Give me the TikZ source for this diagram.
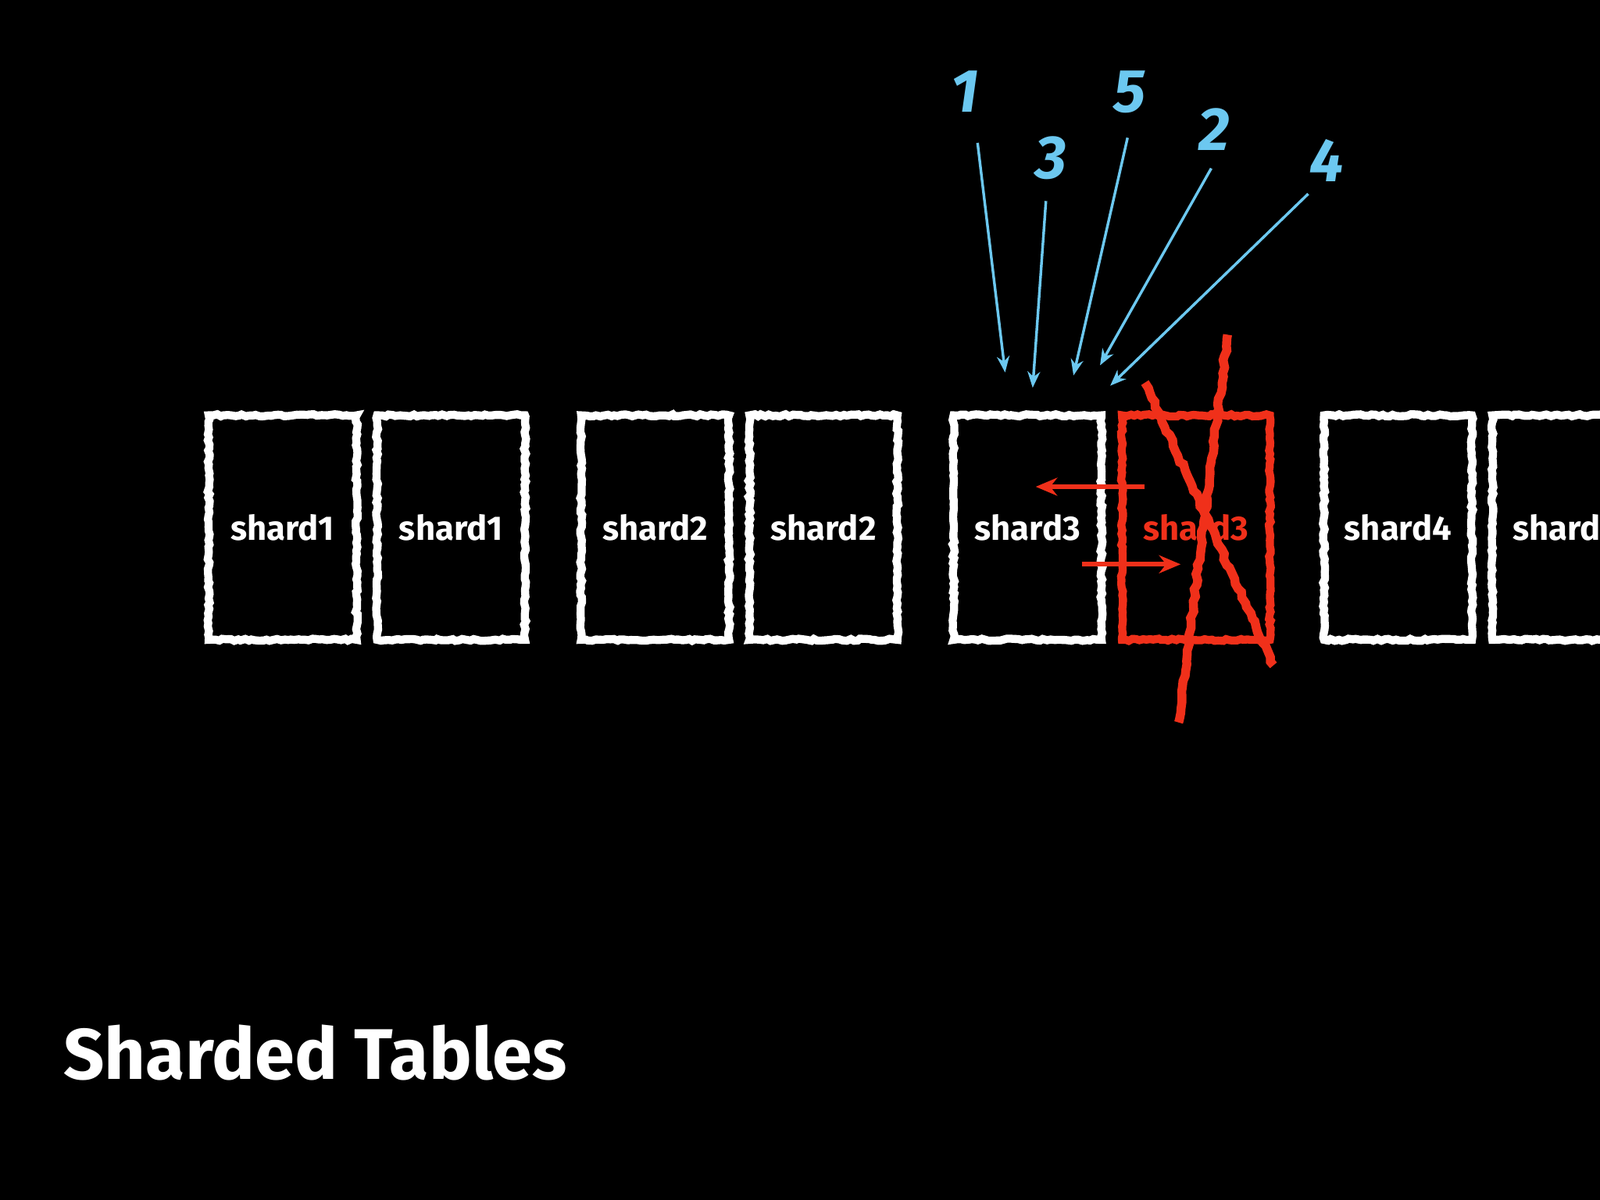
\documentclass[tikz,border=0pt]{standalone}
\usepackage{fontspec}
\setmainfont{Fira Sans}
\usetikzlibrary{decorations.pathmorphing,arrows.meta}
\definecolor{chalkred}{HTML}{F0301A}
\definecolor{chalkblue}{HTML}{6CC8F0}
\tikzset{
 shardbox/.style={draw=white,line width=4.5pt,decorate,decoration={random steps,segment length=2pt,amplitude=0.6pt},minimum width=2.9cm,minimum height=4.4cm,text=white,font=\bfseries\fontsize{19}{23}\selectfont,inner sep=0pt},
 redbox/.style={shardbox,draw=chalkred,text=chalkred},
 num/.style={text=chalkblue,font=\bfseries\itshape\fontsize{34}{40}\selectfont},
 bluearrow/.style={draw=chalkblue,line width=1.5pt,-{Stealth[length=9pt,width=7pt]}},
 redarrow/.style={draw=chalkred,line width=2.5pt,-{Stealth[length=12pt,width=10pt]}},
 strike/.style={draw=chalkred,line width=5pt,decorate,decoration={random steps,segment length=3pt,amplitude=0.8pt}}
}
\begin{document}
\begin{tikzpicture}[x=0.02cm,y=-0.02cm]
\fill[black] (0,0) rectangle (1568,1176);
\useasboundingbox (0,0) rectangle (1568,1176);
\node[shardbox] (a) at (277,517) {shard1};
\node[shardbox] (b) at (442,517) {shard1};
\node[shardbox] (c) at (642,517) {shard2};
\node[shardbox] (d) at (807,517) {shard2};
\node[shardbox] (e) at (1007,517) {shard3};
\node[redbox] (f) at (1172,517) {shard3};
\node[shardbox] (g) at (1370,517) {shard4};
\node[shardbox] (h) at (1535,517) {shard4};
\node[num] (n1) at (946,90) {1};
\node[num] (n3) at (1030,155) {3};
\node[num] (n5) at (1107,90) {5};
\node[num] (n2) at (1190,127) {2};
\node[num] (n4) at (1300,157) {4};
\coordinate (t1) at (985,365);
\coordinate (t3) at (1012,380);
\coordinate (t5) at (1052,368);
\coordinate (t2) at (1078,358);
\coordinate (t4) at (1088,378);
\draw[bluearrow] (958,140) -- (t1);
\draw[bluearrow] (1025,197) -- (t3);
\draw[bluearrow] (1105,135) -- (t5);
\draw[bluearrow] (1187,165) -- (t2);
\draw[bluearrow] (1282,190) -- (t4);
\coordinate (s1a) at (1203,328); \coordinate (s1b) at (1155,708);
\coordinate (s2a) at (1122,375); \coordinate (s2b) at (1248,652);
\draw[strike] (s1a) -- (s1b);
\draw[strike] (s2a) -- (s2b);
\coordinate (r1) at (1122,477); \coordinate (r1e) at (1015,477);
\coordinate (r2) at (1060,553); \coordinate (r2e) at (1157,553);
\draw[redarrow] (r1) -- (r1e);
\draw[redarrow] (r2) -- (r2e);
\node[anchor=base west,text=white,font=\bfseries\fontsize{40}{46}\selectfont,inner sep=0pt] (title) at (62,1058) {Sharded Tables};
\end{tikzpicture}
\end{document}
